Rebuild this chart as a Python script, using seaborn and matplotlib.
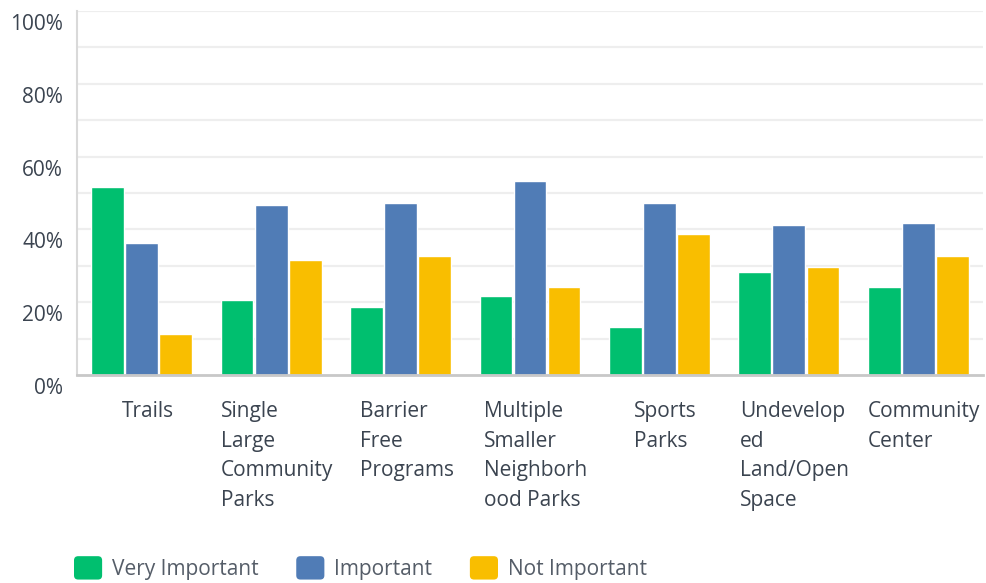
import matplotlib
matplotlib.use("Agg")
import matplotlib.pyplot as plt
from matplotlib.patches import FancyBboxPatch, Patch
from matplotlib.legend_handler import HandlerPatch
from matplotlib.transforms import ScaledTranslation
import pandas as pd
import seaborn as sns

# Survey results: share of respondents per amenity and rating (%)
categories = [
    "Trails",
    "Single\nLarge\nCommunity\nParks",
    "Barrier\nFree\nPrograms",
    "Multiple\nSmaller\nNeighborh\nood Parks",
    "Sports\nParks",
    "Undevelop\ned\nLand/Open\nSpace",
    "Community\nCenter",
]
ratings = ["Very Important", "Important", "Not Important"]
very_important = [51.6, 20.6, 18.7, 21.7, 13.2, 28.3, 24.2]
important = [36.3, 46.7, 47.3, 53.3, 47.3, 41.2, 41.8]
not_important = [11.3, 31.6, 32.7, 24.2, 38.7, 29.7, 32.7]
y_ticks = [0, 20, 40, 60, 80, 100]
y_tick_labels = ["0%", "20%", "40%", "60%", "80%", "100%"]
minor_ticks = [10, 30, 50, 70, 90]
colors = ["#00BF6F", "#507CB6", "#F9BE00"]

df = pd.DataFrame({
    "category": categories * 3,
    "rating": [r for r in ratings for _ in categories],
    "value": very_important + important + not_important,
})

sns.set_theme(style="white")
plt.rcParams["font.family"] = ["Open Sans", "DejaVu Sans"]

fig = plt.figure(figsize=(9.87, 5.83), dpi=100)
ax = fig.add_axes([77 / 987, 208 / 583, 906 / 987, 364 / 583])

sns.barplot(
    data=df, x="category", y="value", hue="rating",
    order=categories, hue_order=ratings, palette=colors,
    saturation=1, width=0.79, gap=0.04, legend=False, ax=ax,
)

ax.set_xlim(-0.5, len(categories) - 0.5)
ax.set_ylim(0, 100)
ax.set_xlabel("")
ax.set_ylabel("")

# grid lines every 10 %, labels every 20 %
ax.set_yticks(y_ticks)
ax.set_yticklabels(y_tick_labels)
ax.set_yticks(minor_ticks, minor=True)
ax.grid(False)
for v in y_ticks[1:] + minor_ticks:
    ax.axhline(v, color="#eeeeee", lw=1.6, zorder=0)
ax.set_axisbelow(True)

for s in ["top", "right"]:
    ax.spines[s].set_visible(False)
ax.spines["left"].set_color("#d9d9d9")
ax.spines["left"].set_linewidth(1.5)
ax.spines["bottom"].set_color("#c8c8c8")
ax.spines["bottom"].set_linewidth(2)
ax.spines["bottom"].set_zorder(5)

text_color = "#3b4450"
ax.tick_params(axis="both", which="both", length=0)
ax.tick_params(axis="y", pad=10, labelsize=15, labelcolor=text_color)
ax.tick_params(axis="x", pad=19, labelsize=15, labelcolor=text_color)

# y labels sit just below their grid line
shift_down = ScaledTranslation(0, -11 / 100, fig.dpi_scale_trans)
for lab in ax.get_yticklabels():
    lab.set_transform(lab.get_transform() + shift_down)

shift_right = ScaledTranslation(6 / 100, 0, fig.dpi_scale_trans)
for lab in ax.get_xticklabels():
    lab.set_multialignment("left")
    lab.set_linespacing(1.53)
    lab.set_transform(lab.get_transform() + shift_right)


def rounded_square(legend, orig_handle, xdescent, ydescent, width, height, fontsize):
    return FancyBboxPatch((-xdescent, -ydescent), width, height,
                          boxstyle="round,pad=0,rounding_size=3")


handles = [Patch(facecolor=c, edgecolor="none", label=r) for c, r in zip(colors, ratings)]
leg = fig.legend(
    handles=handles, loc="center left", bbox_to_anchor=(74 / 987, 15 / 583),
    bbox_transform=fig.transFigure, ncol=3, frameon=False, fontsize=15,
    handlelength=1.35, handleheight=1.35, handletextpad=0.48, columnspacing=1.8,
    borderpad=0, borderaxespad=0,
    handler_map={Patch: HandlerPatch(patch_func=rounded_square)},
)
for t in leg.get_texts():
    t.set_color("#555d68")

fig.savefig("out.png", dpi=100)
